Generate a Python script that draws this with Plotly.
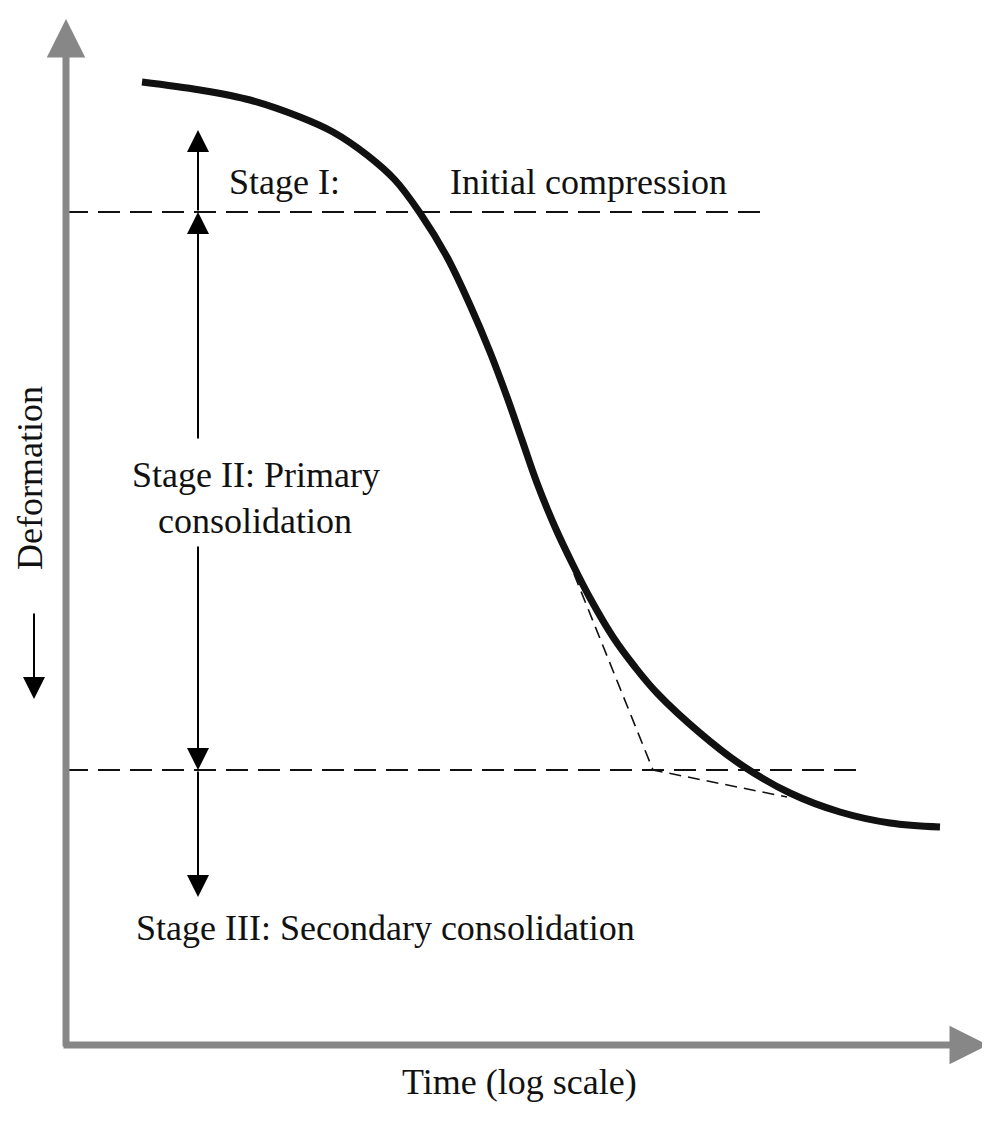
import plotly.graph_objects as go

# Canvas coordinates (pixel-like), y grows downward
W, H = 990, 1127
PAGE_MARGIN = 8  # default body margin of the html page
FIG_W, FIG_H = W - PAGE_MARGIN, H - 2 * PAGE_MARGIN

# Main consolidation curve
curve_x = [142, 200, 250, 300, 333, 367, 395, 420, 447, 470, 490, 507, 522, 537, 555, 573,
           590, 613, 635, 657, 700, 740, 790, 840, 890, 940]
curve_y = [82, 90, 100, 117, 132, 155, 180, 213, 257, 305, 352, 397, 440, 483, 527, 565,
           598, 637, 667, 693, 733, 764, 793, 812, 823, 827]

# Construction (tangent) lines
tangent_x = [574, 653, 787]
tangent_y = [574, 770, 797]

# Stage boundary levels
level_y = [212, 770]
level_x_end = [768, 856]

# Labels
labels = ["Stage I:", "Initial compression", "Stage II: Primary", "consolidation",
          "Stage III: Secondary consolidation", "Time (log scale)"]
label_x = [284, 588, 256, 255, 385, 519]
label_y = [182, 182, 475, 521, 928, 1082]

AXIS_X, AXIS_Y = 66, 1045
GRAY = "#878787"

fig = go.Figure()

fig.add_trace(go.Scatter(x=curve_x, y=curve_y, mode="lines",
                         line=dict(color="#111111", width=7, shape="spline", smoothing=1.0),
                         hoverinfo="skip", showlegend=False))
fig.add_trace(go.Scatter(x=tangent_x, y=tangent_y, mode="lines",
                         line=dict(color="#111111", width=1.6, dash="12px,7px"),
                         hoverinfo="skip", showlegend=False))
for ly, lx in zip(level_y, level_x_end):
    fig.add_trace(go.Scatter(x=[AXIS_X, lx], y=[ly, ly], mode="lines",
                             line=dict(color="#111111", width=2, dash="22px,10px"),
                             hoverinfo="skip", showlegend=False))

def arrow(x0, y0, x1, y1, color="#000", width=2, size=2.2):
    fig.add_annotation(x=x1, y=y1, ax=x0, ay=y0, xref="x", yref="y", axref="x", ayref="y",
                       text="", showarrow=True, arrowhead=2, arrowsize=size,
                       arrowwidth=width, arrowcolor=color, standoff=0, startstandoff=0)

# gray axes
arrow(AXIS_X, AXIS_Y + 3, AXIS_X, 19, color=GRAY, width=7, size=1.1)
arrow(AXIS_X - 4, AXIS_Y, 988, AXIS_Y, color=GRAY, width=7, size=1.1)

# stage arrows
arrow(198, 212, 198, 130)
arrow(198, 440, 198, 212)
arrow(198, 545, 198, 770)
arrow(198, 770, 198, 897)
# deformation direction arrow
arrow(34, 612, 34, 699)

font = dict(family="Liberation Serif, Times New Roman, serif", size=36, color="#111")
for t, x, y in zip(labels, label_x, label_y):
    fig.add_annotation(x=x, y=y, xref="x", yref="y", text=t, showarrow=False,
                       font=font, xanchor="center", yanchor="middle")
fig.add_annotation(x=30, y=478, xref="x", yref="y", text="Deformation", showarrow=False,
                   font=font, textangle=-90, xanchor="center", yanchor="middle")

fig.update_layout(width=FIG_W, height=FIG_H, margin=dict(l=0, r=0, t=0, b=0),
                  paper_bgcolor="white", plot_bgcolor="white",
                  xaxis=dict(range=[PAGE_MARGIN, PAGE_MARGIN + FIG_W], visible=False, fixedrange=True),
                  yaxis=dict(range=[PAGE_MARGIN + FIG_H, PAGE_MARGIN], visible=False, fixedrange=True))

fig.write_html("out.html")
